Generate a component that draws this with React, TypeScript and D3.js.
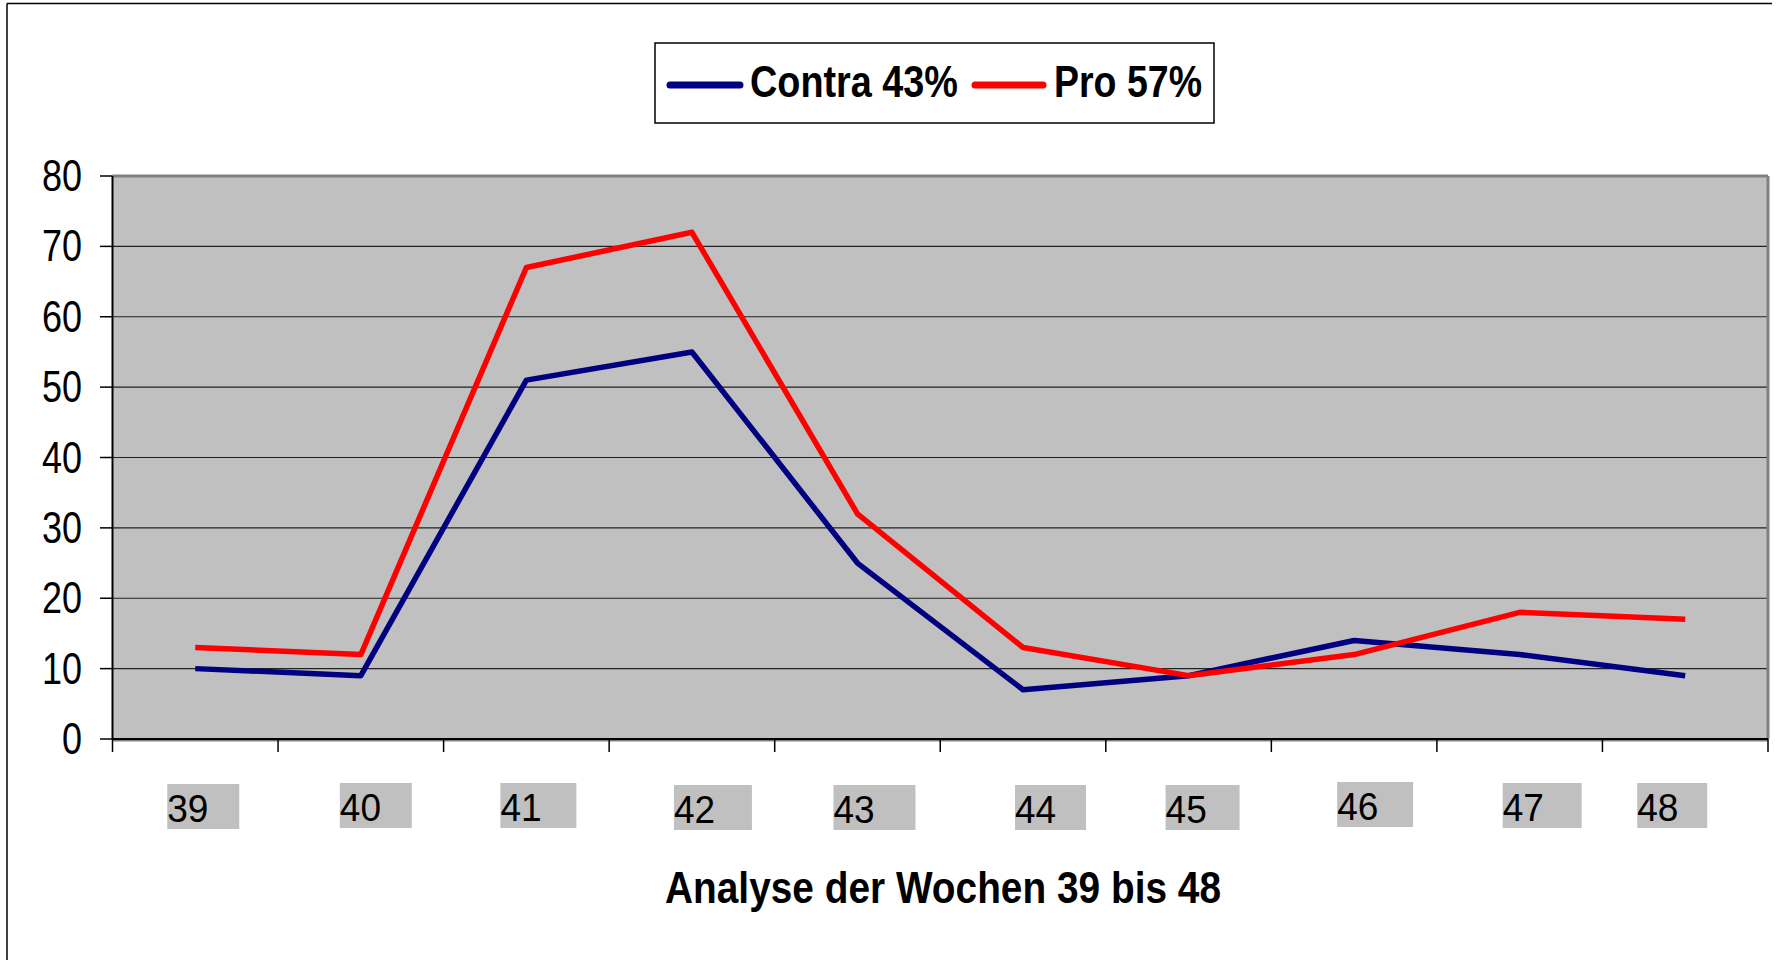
import React from "react";
import * as d3 from "d3";

const weeks = ["39", "40", "41", "42", "43", "44", "45", "46", "47", "48"];
const contra = [10, 9, 51, 55, 25, 7, 9, 14, 12, 9];
const pro = [13, 12, 67, 72, 32, 13, 9, 12, 18, 17];
const yTicks = [0, 10, 20, 30, 40, 50, 60, 70, 80];
const seriesNames = ["Contra 43%", "Pro 57%"];
const titleText = "Analyse der Wochen 39 bis 48";

// layout nudges of the category label boxes (relative to band centre)
const labelDx = [-28, -21, -26, -18, -24, -8, -23, -17, -17, -48];
const labelDy = [0, -1, -1, 1, 1, 1, 1, -2, -1, -1];
const labelW = [72, 72, 76, 78, 82, 71, 74, 76, 79, 70];

const W = 1782;
const H = 960;
const L = 112.5;
const R = 1768;
const T = 176;
const B = 739;

export default function App() {
  const x = d3.scaleBand<string>().domain(weeks).range([L, R]);
  const y = d3.scaleLinear().domain([0, 80]).range([B, T]);
  const cx = (w: string) => (x(w) as number) + x.bandwidth() / 2;

  const line = d3
    .line<number>()
    .x((_, i) => cx(weeks[i]))
    .y((d) => y(d));

  const tickXs = d3.range(weeks.length + 1).map((i) => L + i * x.bandwidth());
  const font = "'Liberation Sans', Arial, sans-serif";

  return (
    <svg
      width={W}
      height={H}
      style={{ position: "absolute", left: 0, top: 0, background: "#fff" }}
      fontFamily={font}
    >
      {/* outer chart border */}
      <line x1={7} y1={3.5} x2={1772} y2={3.5} stroke="#000" strokeWidth={1.5} />
      <line x1={7} y1={3.5} x2={7} y2={H} stroke="#000" strokeWidth={1.5} />

      {/* plot area */}
      <rect x={L} y={T} width={R - L} height={B - T} fill="#C0C0C0" />
      {yTicks.slice(1, -1).map((t) => (
        <line key={t} x1={L} x2={R} y1={y(t)} y2={y(t)} stroke="#222" strokeWidth={1.2} />
      ))}
      <line x1={L} x2={R} y1={T} y2={T} stroke="#808080" strokeWidth={3} />
      <line x1={R} x2={R} y1={T} y2={B} stroke="#808080" strokeWidth={3} />
      <line x1={L} x2={R} y1={B + 1.5} y2={B + 1.5} stroke="#808080" strokeWidth={2} />
      <line x1={L} x2={R} y1={B} y2={B} stroke="#000" strokeWidth={2} />
      <line x1={L} x2={L} y1={T} y2={B} stroke="#000" strokeWidth={2} />

      {/* y ticks and labels */}
      {yTicks.map((t) => (
        <g key={t}>
          <line x1={100} x2={L} y1={y(t)} y2={y(t)} stroke="#000" strokeWidth={1.5} />
          <text
            transform={`translate(82,${y(t) + 15}) scale(0.8,1)`}
            textAnchor="end"
            fontSize={45}
            fill="#000"
          >
            {t}
          </text>
        </g>
      ))}

      {/* x ticks */}
      {tickXs.map((tx, i) => (
        <line key={i} x1={tx} x2={tx} y1={B} y2={752} stroke="#000" strokeWidth={1.5} />
      ))}

      {/* x labels */}
      {weeks.map((w, i) => {
        const bx = cx(w) + labelDx[i];
        const by = 784 + labelDy[i];
        return (
          <g key={w}>
            <rect x={bx} y={by} width={labelW[i]} height={45} fill="#C0C0C0" />
            <text transform={`translate(${bx},${by + 38}) scale(0.95,1)`} fontSize={39} fill="#000">
              {w}
            </text>
          </g>
        );
      })}

      {/* series */}
      <path d={line(contra) || ""} fill="none" stroke="#000080" strokeWidth={5.5} strokeLinejoin="round" />
      <path d={line(pro) || ""} fill="none" stroke="#FF0000" strokeWidth={5.5} strokeLinejoin="round" />

      {/* legend */}
      <rect x={655} y={43} width={559} height={80} fill="#fff" stroke="#000" strokeWidth={1.5} />
      <line x1={670} x2={740} y1={85} y2={85} stroke="#000080" strokeWidth={7} strokeLinecap="round" />
      <text x={750} y={97} fontSize={45} fontWeight="bold" textLength={208} lengthAdjust="spacingAndGlyphs">
        {seriesNames[0]}
      </text>
      <line x1={975} x2={1043} y1={85} y2={85} stroke="#FF0000" strokeWidth={7} strokeLinecap="round" />
      <text x={1054} y={97} fontSize={45} fontWeight="bold" textLength={148} lengthAdjust="spacingAndGlyphs">
        {seriesNames[1]}
      </text>

      {/* axis title */}
      <text x={665} y={903} fontSize={45} fontWeight="bold" textLength={556} lengthAdjust="spacingAndGlyphs">
        {titleText}
      </text>
    </svg>
  );
}
